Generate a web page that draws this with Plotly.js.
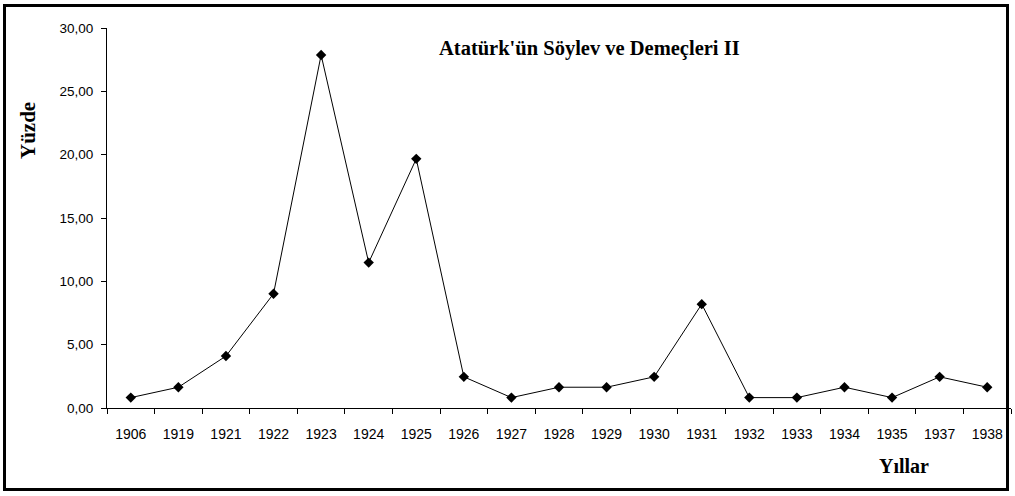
<!DOCTYPE html>
<html>
<head>
<meta charset="utf-8">
<script src="https://cdn.plot.ly/plotly-3.0.1.min.js"></script>
<style>html,body{margin:0;padding:0;background:#fff;}#chart{width:1015px;height:496px;}</style>
</head>
<body>
<div id="chart"></div>
<script>
const years = ["1906","1919","1921","1922","1923","1924","1925","1926","1927","1928","1929","1930","1931","1932","1933","1934","1935","1937","1938"];
const percents = [0.82,1.64,4.10,9.02,27.87,11.48,19.67,2.46,0.82,1.64,1.64,2.46,8.20,0.82,0.82,1.64,0.82,2.46,1.64];
const yTicks = [0,5,10,15,20,25,30];
const chartTitle = "Atatürk'ün Söylev ve Demeçleri II";
const yTitle = "Yüzde";
const xTitle = "Yıllar";

const W = 1015, H = 496;
const m = {l:107, r:4, t:28, b:88};
const pw = W - m.l - m.r, ph = H - m.t - m.b;
const px = v => (v - m.l) / pw;
const py = v => (H - m.b - v) / ph;

const trace = {
  x: years, y: percents, type: 'scatter', mode: 'lines+markers',
  line: {color: '#000', width: 1},
  marker: {symbol: 'diamond', size: 8, color: '#000'},
  hoverinfo: 'x+y'
};

const serif = 'Liberation Serif, Times New Roman, serif';

const layout = {
  width: W, height: H,
  margin: m,
  paper_bgcolor: '#fff', plot_bgcolor: '#fff',
  showlegend: false,
  separators: ', ',
  font: {family: 'Liberation Sans, Arial, sans-serif', size: 13, color: '#000'},
  xaxis: {
    type: 'category', range: [-0.5, years.length - 0.5],
    showline: true, linecolor: '#000', linewidth: 1,
    ticks: 'outside', ticklen: 5, tickcolor: '#000', tickson: 'boundaries',
    ticklabelstandoff: 13,
    showgrid: false, zeroline: false, tickfont: {size: 14}
  },
  yaxis: {
    range: [0, 30], tickvals: yTicks, tickformat: '.2f',
    showline: true, linecolor: '#000', linewidth: 1,
    ticks: 'outside', ticklen: 5, tickcolor: '#000',
    ticklabelstandoff: 5,
    showgrid: false, zeroline: false, tickfont: {size: 13.5}
  },
  annotations: [
    {text: '<b>' + chartTitle + '</b>', xref: 'paper', yref: 'paper', x: px(589), y: py(48),
     xanchor: 'center', yanchor: 'middle', showarrow: false,
     font: {family: serif, size: 20.5, color: '#000'}},
    {text: '<b>' + yTitle + '</b>', xref: 'paper', yref: 'paper', x: px(28), y: py(131),
     xanchor: 'center', yanchor: 'middle', showarrow: false, textangle: -90,
     font: {family: serif, size: 21, color: '#000'}},
    {text: '<b>' + xTitle + '</b>', xref: 'paper', yref: 'paper', x: px(904), y: py(466),
     xanchor: 'center', yanchor: 'middle', showarrow: false,
     font: {family: serif, size: 20, color: '#000'}}
  ],
  shapes: [
    {type: 'rect', xref: 'paper', yref: 'paper', x0: px(4.5), x1: px(1007.5), y0: py(5.5), y1: py(489.5),
     line: {color: '#000', width: 3}, fillcolor: 'rgba(0,0,0,0)', layer: 'above'}
  ]
};

Plotly.newPlot('chart', [trace], layout, {displayModeBar: false, staticPlot: true});
</script>
</body>
</html>
